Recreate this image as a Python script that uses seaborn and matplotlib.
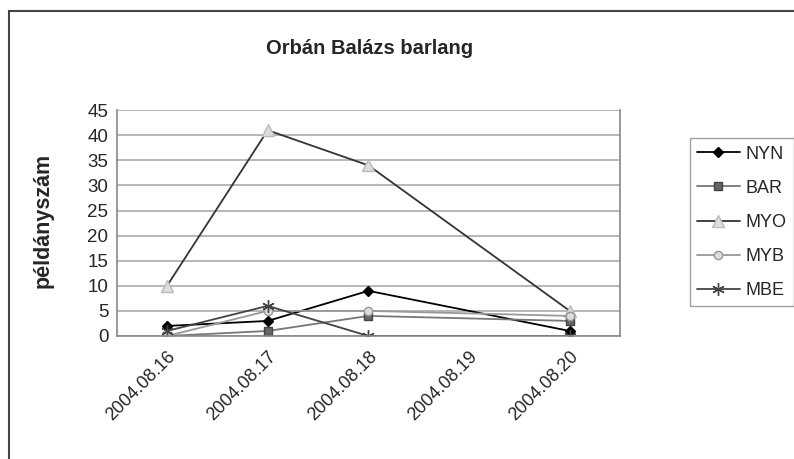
import numpy as np
import pandas as pd
import matplotlib
matplotlib.use("Agg")
import matplotlib.pyplot as plt
import seaborn as sns
from matplotlib.patches import Rectangle

# Data
dates = ['2004.08.16', '2004.08.17', '2004.08.18', '2004.08.19', '2004.08.20']
sample_dates = ['2004.08.16', '2004.08.17', '2004.08.18', '2004.08.20']
nyn = [2, 3, 9, 1]
bar = [0, 1, 4, 3]
myo = [10, 41, 34, 5]
myb = [0, 5, 5, 4]
mbe = [1, 6, 0, 0]
y_ticks = [0, 5, 10, 15, 20, 25, 30, 35, 40, 45]

sns.set_style("white")
plt.rcParams['font.family'] = ['Liberation Sans', 'DejaVu Sans']

fig = plt.figure(figsize=(7.94, 4.59), dpi=100)
ax = fig.add_axes([0.147, 0.268, 0.634, 0.492])

x_pos = [dates.index(d) for d in sample_dates]

series = [
    ('NYN', nyn, '#000000', 'D', '#000000', '#000000', 5),
    ('BAR', bar, '#777777', 's', '#666666', '#444444', 6),
    ('MYO', myo, '#333333', '^', '#dddddd', '#bbbbbb', 8),
    ('MYB', myb, '#999999', 'o', '#dddddd', '#999999', 6),
    ('MBE', mbe, '#444444', (6, 2, 0), '#444444', '#444444', 9),
]

for name, vals, col, mk, mfc, mec, ms in series:
    df = pd.DataFrame({'x': x_pos, 'y': vals})
    sns.lineplot(data=df, x='x', y='y', ax=ax, color=col, linewidth=1.3,
                 marker=mk, markersize=ms, markerfacecolor=mfc,
                 markeredgecolor=mec, markeredgewidth=1, label=name)

ax.set_xlim(-0.5, len(dates) - 0.5)
ax.set_ylim(0, 45)
ax.set_yticks(y_ticks)
ax.set_yticklabels([str(t) for t in y_ticks], fontsize=13.5)
ax.set_xticks(range(len(dates)))
ax.set_xticklabels(dates, rotation=45, ha='right', rotation_mode='anchor', fontsize=13)
ax.set_xticks(np.arange(-0.5, len(dates)), minor=True)
ax.tick_params(axis='x', which='major', length=0, pad=9)
ax.tick_params(axis='x', which='minor', length=4, color='#888888', direction='out')
ax.tick_params(axis='y', length=4, color='#888888', direction='out', pad=2)

ax.grid(axis='y', color='#aaaaaa', linewidth=1.2)
ax.set_axisbelow(True)
for s in ['top']:
    ax.spines[s].set_visible(False)
for s in ['left', 'bottom', 'right']:
    ax.spines[s].set_color('#888888')
    ax.spines[s].set_linewidth(1.2)

ax.set_xlabel('')
ax.set_ylabel('példányszám', fontsize=15.5, fontweight='bold')
ax.yaxis.set_label_coords(-0.125, 0.51)
fig.text(0.465, 0.895, 'Orbán Balázs barlang', fontsize=14.5, fontweight='bold',
         ha='center', va='center')

leg = ax.legend(loc='upper left', bbox_to_anchor=(1.12, 0.915), frameon=True,
                fontsize=13, handlelength=2.4, handletextpad=0.3,
                borderpad=0.4, labelspacing=0.95, fancybox=False)
leg.get_frame().set_edgecolor('#888888')
leg.get_frame().set_linewidth(1)

fig.patches.append(Rectangle((0.011, -0.01), 1.0, 0.985, transform=fig.transFigure,
                             fill=False, edgecolor='#444444', linewidth=1.5))

fig.savefig('out.png', dpi=100)
